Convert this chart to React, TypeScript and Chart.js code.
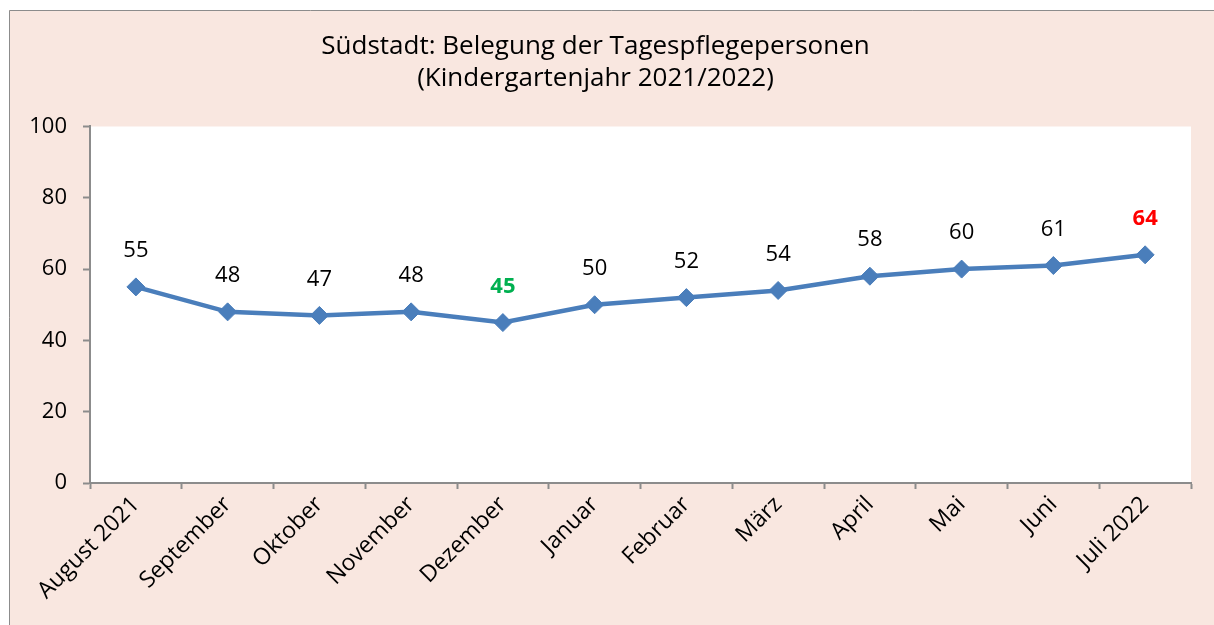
import React, { useEffect, useRef } from "react";
import { Chart, registerables } from "chart.js";

Chart.register(...registerables);

const titleLines = ["Südstadt: Belegung der Tagespflegepersonen", "(Kindergartenjahr 2021/2022)"];
const months = ["August 2021", "September", "Oktober", "November", "Dezember", "Januar", "Februar", "März", "April", "Mai", "Juni", "Juli 2022"];
const belegung = [55, 48, 47, 48, 45, 50, 52, 54, 58, 60, 61, 64];
const labelColors = ["#000000", "#000000", "#000000", "#000000", "#00B050", "#000000", "#000000", "#000000", "#000000", "#000000", "#000000", "#FF0000"];
const labelBold = [false, false, false, false, true, false, false, false, false, false, false, true];
const yTicks = [0, 20, 40, 60, 80, 100];

const FONT = "'Open Sans', 'Noto Sans', sans-serif";

const backgroundPlugin = {
  id: "bgPlugin",
  beforeDraw(chart: any) {
    const { ctx, width, height, chartArea } = chart;
    ctx.save();
    ctx.fillStyle = "#F9E7E0";
    ctx.fillRect(9, 10, width, height);
    ctx.strokeStyle = "#8C8C8C";
    ctx.lineWidth = 1;
    ctx.beginPath();
    ctx.moveTo(9.5, height);
    ctx.lineTo(9.5, 10.5);
    ctx.lineTo(width, 10.5);
    ctx.stroke();
    ctx.fillStyle = "#FFFFFF";
    ctx.fillRect(chartArea.left, chartArea.top, chartArea.right - chartArea.left, chartArea.bottom - chartArea.top);
    ctx.restore();
  },
};

const dataLabelPlugin = {
  id: "dataLabels",
  afterDatasetsDraw(chart: any) {
    const { ctx } = chart;
    const meta = chart.getDatasetMeta(0);
    ctx.save();
    ctx.textAlign = "center";
    ctx.textBaseline = "middle";
    meta.data.forEach((pt: any, i: number) => {
      ctx.fillStyle = labelColors[i];
      ctx.font = `${labelBold[i] ? "bold " : ""}22px ${FONT}`;
      ctx.fillText(String(belegung[i]), pt.x, pt.y - 36);
    });
    ctx.restore();
  },
};

export default function App() {
  const canvasRef = useRef<HTMLCanvasElement | null>(null);

  useEffect(() => {
    document.body.style.margin = "0";
    document.body.style.overflow = "hidden";
    if (!canvasRef.current) return;
    const chart = new Chart(canvasRef.current, {
      type: "line",
      data: {
        labels: months,
        datasets: [
          {
            data: belegung,
            borderColor: "#4A7EBB",
            backgroundColor: "#4A7EBB",
            borderWidth: 4.5,
            pointStyle: "rectRot",
            pointRadius: 9,
            pointBorderWidth: 1,
            pointBackgroundColor: "#4A7EBB",
            pointBorderColor: "#4A7EBB",
            tension: 0,
          },
        ],
      },
      options: {
        animation: false,
        responsive: true,
        maintainAspectRatio: false,
        layout: { padding: { top: 10, left: 0, right: 23, bottom: 0 } },
        plugins: {
          legend: { display: false },
          tooltip: { enabled: false },
          title: {
            display: true,
            text: titleLines,
            color: "#000000",
            font: { family: FONT, size: 26, weight: "500", lineHeight: 1.24 },
            padding: { top: 20, bottom: 32 },
          },
        },
        scales: {
          x: {
            type: "category",
            offset: true,
            grid: {
              offset: true,
              drawOnChartArea: false,
              drawTicks: true,
              tickLength: 6,
              tickWidth: 2,
              tickColor: "#8C8C8C",
            },
            border: { display: true, color: "#8C8C8C", width: 2 },
            ticks: {
              color: "#000000",
              font: { family: FONT, size: 23 },
              minRotation: 45,
              maxRotation: 45,
              autoSkip: false,
              padding: 2,
            },
            afterFit(scale: any) {
              scale.height = 142;
            },
          },
          y: {
            min: 0,
            max: 100,
            afterBuildTicks(scale: any) {
              scale.ticks = yTicks.map((v) => ({ value: v }));
            },
            grid: {
              drawOnChartArea: false,
              drawTicks: true,
              tickLength: 7,
              tickWidth: 2,
              tickColor: "#8C8C8C",
            },
            border: { display: true, color: "#8C8C8C", width: 2 },
            ticks: {
              color: "#000000",
              font: { family: FONT, size: 22 },
              padding: 16,
            },
            afterFit(scale: any) {
              scale.width = 90;
            },
          },
        },
      },
      plugins: [backgroundPlugin, dataLabelPlugin],
    });
    return () => chart.destroy();
  }, []);

  return (
    <div style={{ width: 1214, height: 625, position: "relative" }}>
      <canvas ref={canvasRef} />
    </div>
  );
}
